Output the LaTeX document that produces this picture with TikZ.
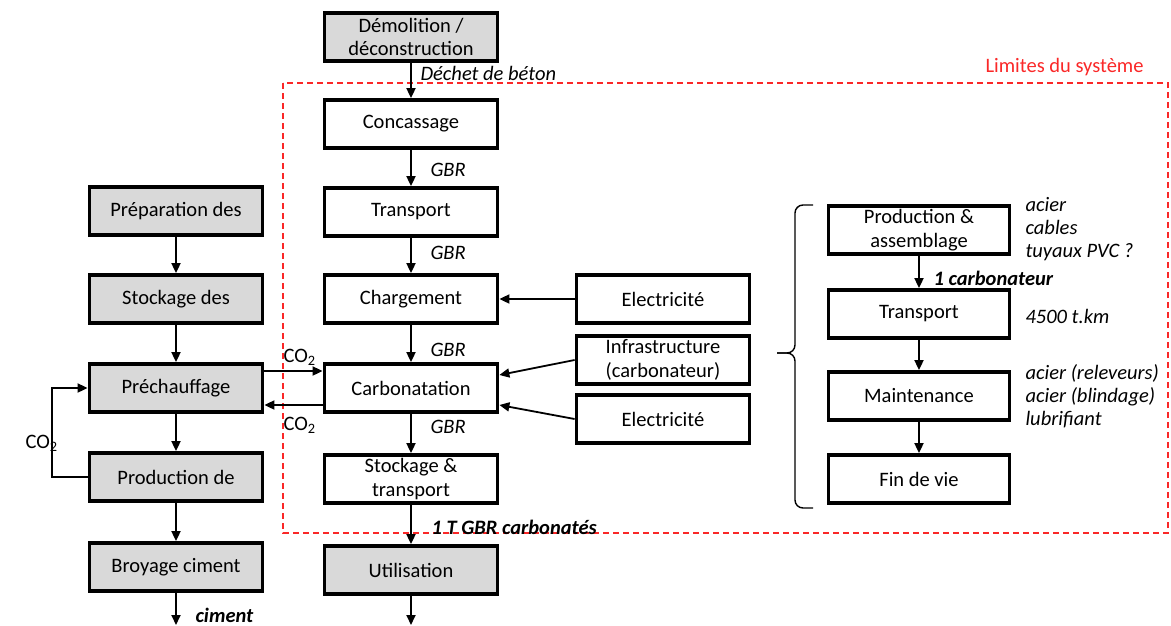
\documentclass[tikz,border=0pt]{standalone}
\usepackage{fontspec}
\setmainfont{Carlito}
\usetikzlibrary{arrows.meta, positioning}
\definecolor{boxgray}{RGB}{217,217,217}
\definecolor{limitred}{RGB}{250,40,40}

\begin{document}
\begin{tikzpicture}[x=1pt, y=-1pt,
  every node/.style={font=\fontsize{20.5}{23.5}\selectfont},
  proc/.style={draw, line width=3.8pt, minimum width=173pt, minimum height=48pt, align=center, inner sep=0.5pt},
  grayproc/.style={proc, fill=boxgray},
  flow/.style={-{Triangle[length=10pt, width=9pt]}, line width=1.8pt},
  lbl/.style={anchor=west, font=\fontsize{20.5}{23.5}\selectfont\itshape},
  boldlbl/.style={anchor=west, font=\fontsize{20.5}{23.5}\selectfont\bfseries\itshape},
  note/.style={anchor=west, align=left, font=\fontsize{20.5}{23}\selectfont\itshape}]
\useasboundingbox (0,0) rectangle (1171,625);

% System boundary
\draw[limitred, dash pattern=on 6pt off 4pt, line width=1.4pt] (283,83) rectangle (1168,533);
\node[anchor=west, text=limitred] (limits) at (982,67) {Limites du système};

% Cement chain (left)
\node[grayproc] (prep) at (176,211) {Préparation des};
\node[grayproc] (stockd) at (176,299) {Stockage des};
\node[grayproc] (prech) at (176,388) {Préchauffage};
\node[grayproc] (prodc) at (176,477) {Production de};
\node[grayproc] (broy) at (176,567) {Broyage ciment};
\coordinate (cimentend) at (176,625);

\draw[flow] (prep) -- (stockd);
\draw[flow] (stockd) -- (prech);
\draw[flow] (prech) -- (prodc);
\draw[flow] (prodc) -- (broy);
\draw[flow] (broy) -- (cimentend);
\draw[flow] (prodc.west) -- ++(-36,0) |- (prech.west);
\node[anchor=west] (co2loop) at (22,443) {CO\textsubscript{2}};
\node[boldlbl] (ciment) at (192,615) {ciment};

% Concrete chain (middle)
\node[grayproc] (demol) at (411,37) {Démolition /\\déconstruction};
\node[proc] (conc) at (411,124) {Concassage};
\node[proc] (transp) at (411,212) {Transport};
\node[proc] (charg) at (411,299) {Chargement};
\node[proc] (carbo) at (411,388) {Carbonatation};
\node[proc] (stock) at (411,479) {Stockage \&\\transport};
\node[grayproc] (util) at (411,570) {Utilisation};
\coordinate (utilend) at (411,625);

\draw[flow] (demol) -- (conc);
\draw[flow] (conc) -- (transp);
\draw[flow] (transp) -- (charg);
\draw[flow] (charg) -- (carbo);
\draw[flow] (carbo) -- (stock);
\draw[flow] (stock) -- (util);
\draw[flow] (util) -- (utilend);

\node[lbl] (dechet) at (417,73) {Déchet de béton};
\node[lbl] (gbr1) at (427,170) {GBR};
\node[lbl] (gbr2) at (427,253) {GBR};
\node[lbl] (gbr3) at (427,350) {GBR};
\node[lbl] (gbr4) at (427,427) {GBR};
\node[boldlbl] (gbrc) at (428,527) {1 T GBR carbonatés};

% CO2 exchange
\draw[flow] ([yshift=17pt]prech.east) -- ([yshift=17pt]carbo.west);
\draw[flow] ([yshift=-17pt]carbo.west) -- ([yshift=-17pt]prech.east);
\node[anchor=west] (co2in) at (280,357) {CO\textsubscript{2}};
\node[anchor=west] (co2out) at (280,425) {CO\textsubscript{2}};

% Inputs
\node[proc] (elec1) at (663,299) {Electricité};
\node[proc] (infra) at (663,360) {Infrastructure\\(carbonateur)};
\node[proc] (elec2) at (663,419) {Electricité};

\draw[flow] (elec1) -- (charg);
\draw[flow] (infra.west) -- ([yshift=13pt]carbo.east);
\draw[flow] (elec2.west) -- ([yshift=-17pt]carbo.east);

% Carbonator life cycle (right)
\coordinate (bracetip) at (777,353);
\draw[line width=1.4pt, rounded corners=8pt] (813,205) -- (795,205) -- (795,353) -- (bracetip);
\draw[line width=1.4pt, rounded corners=8pt] (813,508) -- (795,508) -- (795,353) -- (bracetip);

\node[proc, minimum width=181pt] (prodA) at (919,230) {Production \&\\assemblage};
\node[proc, minimum width=181pt] (transR) at (919,314) {Transport};
\node[proc, minimum width=181pt] (maint) at (919,396) {Maintenance};
\node[proc, minimum width=181pt] (fin) at (919,479) {Fin de vie};

\draw[flow] (prodA) -- (transR);
\draw[flow] (transR) -- (maint);
\draw[flow] (maint) -- (fin);

\node[boldlbl] (carbonateur) at (930,278) {1 carbonateur};
\node[note] (noteA) at (1022,229) {acier\\cables\\tuyaux PVC ?};
\node[note] (noteT) at (1022,316) {4500 t.km};
\node[note] (noteM) at (1022,396) {acier (releveurs)\\acier (blindage)\\lubrifiant};
\end{tikzpicture}
\end{document}
